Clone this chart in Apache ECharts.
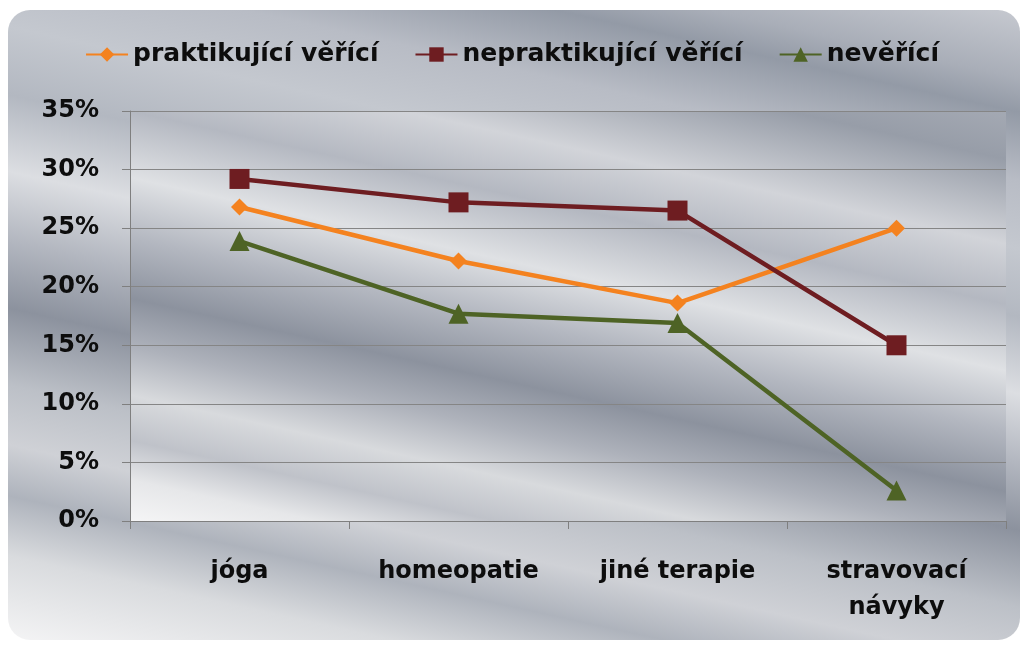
<!DOCTYPE html>
<html lang="cs">
<head>
  <meta charset="UTF-8">
  <title>Alternativní medicína</title>
  <style type="text/css">
    html, body { margin: 0; padding: 0; background: #ffffff; }
    #main { width: 1024px; height: 646px; }
  </style>
</head>
<body>
  <div id="main"></div>
  <script type="text/javascript" src="https://cdn.jsdelivr.net/npm/echarts@6/dist/echarts.min.js"></script>
  <script type="text/javascript">
    // data (percent)
    var categories = ['jóga', 'homeopatie', 'jiné terapie', 'stravovací\nnávyky'];
    var praktikujici = [26.8, 22.2, 18.6, 25.0];
    var nepraktikujici = [29.2, 27.2, 26.5, 15.0];
    var neverici = [23.9, 17.7, 16.9, 2.6];
    var seriesNames = ['praktikující věřící', 'nepraktikující věřící', 'nevěřící'];

    var font = 'DejaVu Sans';

    var myChart = echarts.init(document.getElementById('main'));

    // metallic backgrounds: bands slanting down to the right
    var outerFill = new echarts.graphic.LinearGradient(1020, 10, 841, 824, [
      { offset: 0, color: '#c6c9d0' },
      { offset: 0.08, color: '#a9aeb8' },
      { offset: 0.12, color: '#939aa6' },
      { offset: 0.2, color: '#b8bcc5' },
      { offset: 0.28, color: '#c4c8cf' },
      { offset: 0.36, color: '#b3b8c1' },
      { offset: 0.45, color: '#dcdee2' },
      { offset: 0.53, color: '#b3b7c0' },
      { offset: 0.61, color: '#8c929e' },
      { offset: 0.7, color: '#bcc0c7' },
      { offset: 0.77, color: '#cfd1d6' },
      { offset: 0.83, color: '#aeb3bc' },
      { offset: 0.9, color: '#d9dbde' },
      { offset: 1, color: '#f4f4f5' }
    ], true);

    var plotFill = new echarts.graphic.LinearGradient(1006, 111, 879, 687, [
      { offset: 0, color: '#a4a9b3' },
      { offset: 0.08, color: '#979da8' },
      { offset: 0.22, color: '#d2d4d9' },
      { offset: 0.32, color: '#b4b8c1' },
      { offset: 0.43, color: '#dfe1e4' },
      { offset: 0.53, color: '#b3b7c0' },
      { offset: 0.63, color: '#8c929e' },
      { offset: 0.71, color: '#aeb2bb' },
      { offset: 0.79, color: '#d8dadd' },
      { offset: 0.865, color: '#bfc2c9' },
      { offset: 0.93, color: '#e6e7e9' },
      { offset: 1, color: '#f5f5f6' }
    ], true);

    var option = {
      animation: false,
      graphic: [{
        type: 'rect',
        z: -10,
        shape: { x: 8, y: 10, width: 1012, height: 630, r: 22 },
        style: { fill: outerFill }
      }, {
        type: 'rect',
        z: -9,
        shape: { x: 130, y: 111, width: 876, height: 410 },
        style: { fill: plotFill }
      }],
      legend: {
        top: 37,
        left: 'center',
        itemWidth: 42,
        itemHeight: 18,
        itemGap: 36,
        textStyle: { fontFamily: font, fontWeight: 'bold', fontSize: 25, color: '#0d0d0d' },
        data: seriesNames
      },
      grid: {
        left: 130,
        right: 18,
        top: 111,
        bottom: 125
      },
      xAxis: {
        type: 'category',
        data: categories,
        boundaryGap: true,
        axisLine: { lineStyle: { color: '#7f7f7f', width: 1 } },
        axisTick: { show: true, length: 8, lineStyle: { color: '#7f7f7f' } },
        axisLabel: {
          margin: 33,
          interval: 0,
          fontFamily: font,
          fontWeight: 'bold',
          fontSize: 24,
          color: '#0d0d0d',
          lineHeight: 36
        }
      },
      yAxis: {
        type: 'value',
        min: 0,
        max: 35,
        interval: 5,
        axisLine: { show: true, lineStyle: { color: '#7f7f7f', width: 1 } },
        axisTick: { show: true, length: 8, lineStyle: { color: '#7f7f7f' } },
        splitLine: { lineStyle: { color: '#858585', width: 1.2 } },
        axisLabel: {
          margin: 31,
          formatter: '{value}%',
          fontFamily: font,
          fontWeight: 'bold',
          fontSize: 24,
          color: '#0d0d0d'
        }
      },
      series: [{
        name: seriesNames[0],
        type: 'line',
        data: praktikujici,
        symbol: 'diamond',
        symbolSize: 17,
        color: '#f4821f',
        lineStyle: { width: 4.5, color: '#f4821f' },
        itemStyle: { color: '#f4821f' }
      }, {
        name: seriesNames[1],
        type: 'line',
        data: nepraktikujici,
        symbol: 'rect',
        symbolSize: 20,
        color: '#6e1d21',
        lineStyle: { width: 4.5, color: '#6e1d21' },
        itemStyle: { color: '#6e1d21' }
      }, {
        name: seriesNames[2],
        type: 'line',
        data: neverici,
        symbol: 'triangle',
        symbolSize: 20,
        color: '#4e6325',
        lineStyle: { width: 4.5, color: '#4e6325' },
        itemStyle: { color: '#4e6325' }
      }]
    };

    myChart.setOption(option);
  </script>
</body>
</html>
